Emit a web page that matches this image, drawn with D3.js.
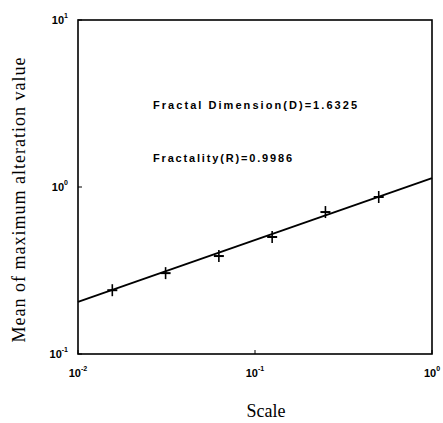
<!DOCTYPE html>
<html>
<head>
<meta charset="utf-8">
<script src="https://cdn.jsdelivr.net/npm/d3@7"></script>
<style>
  body { margin: 0; background: #fff; }
  svg { display: block; }
</style>
</head>
<body>
<div id="chart"></div>
<script>
// data
var scales = [1/64, 1/32, 1/16, 1/8, 1/4, 1/2]
var meanAlt = [0.241, 0.305, 0.386, 0.502, 0.708, 0.871]
var fitX = [0.01, 1]
var fitY = [0.205, 1.13]
var xTicks = [-2, -1, 0]
var yTicks = [-1, 0, 1]
var notes = ["Fractal Dimension(D)=1.6325", "Fractality(R)=0.9986"]

var W = 443, H = 423
var margin = {top: 20, left: 78, right: 11, bottom: 69}

var svg = d3.select("#chart").append("svg")
  .attr("width", W)
  .attr("height", H)

var x = d3.scaleLog().domain([0.01, 1]).range([margin.left, W - margin.right])
var y = d3.scaleLog().domain([0.1, 10]).range([H - margin.bottom, margin.top])

// box
svg.append("rect")
  .attr("x", x(0.01)).attr("y", y(10))
  .attr("width", x(1) - x(0.01)).attr("height", y(0.1) - y(10))
  .attr("fill", "none").attr("stroke", "#000").attr("stroke-width", 1.6)

// ticks pointing inwards
var tickFont = "Arial, 'Liberation Sans', sans-serif"
xTicks.forEach(function(p) {
  var xx = x(Math.pow(10, p))
  svg.append("line").attr("x1", xx).attr("x2", xx)
    .attr("y1", y(0.1)).attr("y2", y(0.1) - 4).attr("stroke", "#000")
  var t = svg.append("text")
    .attr("x", xx).attr("y", y(0.1) + 23)
    .attr("text-anchor", "middle")
    .style("font-family", tickFont).style("font-size", "11px").style("font-weight", "bold")
  t.append("tspan").text("10")
  t.append("tspan").attr("dy", -6).style("font-size", "7px").text(p)
})
yTicks.forEach(function(p) {
  var yy = y(Math.pow(10, p))
  svg.append("line").attr("x1", x(0.01)).attr("x2", x(0.01) + 4)
    .attr("y1", yy).attr("y2", yy).attr("stroke", "#000")
  var t = svg.append("text")
    .attr("x", x(0.01) - 10).attr("y", yy + 4)
    .attr("text-anchor", "end")
    .style("font-family", tickFont).style("font-size", "11px").style("font-weight", "bold")
  t.append("tspan").text("10")
  t.append("tspan").attr("dy", -6).style("font-size", "7px").text(p)
})

// fitted line
var line = d3.line()
  .x(function(d) { return x(d[0]) })
  .y(function(d) { return y(d[1]) })
svg.append("path")
  .datum(d3.zip(fitX, fitY))
  .attr("d", line)
  .attr("fill", "none").attr("stroke", "#000").attr("stroke-width", 1.8)

// "+" markers
var pts = svg.selectAll("g.pt")
  .data(d3.zip(scales, meanAlt))
  .enter().append("g")
  .attr("class", "pt")
  .attr("transform", function(d) { return "translate(" + x(d[0]) + "," + y(d[1]) + ")" })
pts.append("line").attr("x1", -5).attr("x2", 5).attr("stroke", "#000").attr("stroke-width", 2)
pts.append("line").attr("y1", -6).attr("y2", 6).attr("stroke", "#000").attr("stroke-width", 1.6)

// annotations
svg.selectAll("text.note")
  .data(notes)
  .enter().append("text")
  .attr("class", "note")
  .attr("x", 153)
  .attr("y", function(d, i) { return 109 + i * 53 })
  .attr("textLength", function(d, i) { return i == 0 ? 204 : 139 })
  .style("font-family", tickFont).style("font-size", "11px").style("font-weight", "bold")
  .text(function(d) { return d })

// axis titles
var serif = "'Liberation Serif', 'DejaVu Serif', Times, serif"
svg.append("text")
  .attr("x", 266).attr("y", 417)
  .attr("text-anchor", "middle")
  .style("font-family", serif).style("font-size", "18px")
  .text("Scale")

svg.append("text")
  .attr("transform", "translate(25,200) rotate(-90)")
  .attr("text-anchor", "middle")
  .attr("textLength", 285)
  .style("font-family", serif).style("font-size", "18px")
  .text("Mean of maximum alteration value")
</script>
</body>
</html>
